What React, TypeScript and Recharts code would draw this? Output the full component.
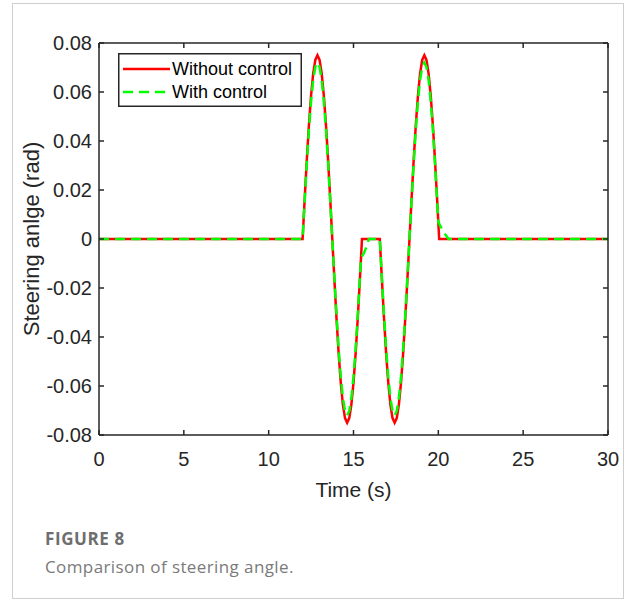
import React from "react";
import { LineChart, Line, XAxis, YAxis } from "recharts";

// time (s) and steering angle (rad)
const withoutTime = [
  0, 12, 12.125, 12.25, 12.375, 12.5, 12.625, 12.75, 12.875, 13, 13.125, 13.25, 13.375, 13.5, 13.625,
  13.75, 13.875, 14, 14.125, 14.25, 14.375, 14.5, 14.625, 14.75, 14.875, 15, 15.125, 15.25, 15.375,
  15.5, 16.55, 16.675, 16.8, 16.925, 17.05, 17.175, 17.3, 17.425, 17.55, 17.675, 17.8, 17.925, 18.05,
  18.175, 18.3, 18.425, 18.55, 18.675, 18.8, 18.925, 19.05, 19.175, 19.3, 19.425, 19.55, 19.675, 19.8,
  19.925, 20.05, 30,
];
const withoutAngle = [
  0, 0, 0.0167, 0.0325, 0.0468, 0.0586, 0.0676, 0.0731, 0.075, 0.0731, 0.0676, 0.0586, 0.0468, 0.0325,
  0.0167, 0, -0.0167, -0.0325, -0.0468, -0.0586, -0.0676, -0.0731, -0.075, -0.0731, -0.0676, -0.0586,
  -0.0468, -0.0325, -0.0167, 0, 0, -0.0167, -0.0325, -0.0468, -0.0586, -0.0676, -0.0731, -0.075,
  -0.0731, -0.0676, -0.0586, -0.0468, -0.0325, -0.0167, 0, 0.0167, 0.0325, 0.0468, 0.0586, 0.0676,
  0.0731, 0.075, 0.0731, 0.0676, 0.0586, 0.0468, 0.0325, 0.0167, 0, 0,
];

const withTime = [
  0, 12, 12.125, 12.25, 12.375, 12.5, 12.625, 12.75, 12.875, 13, 13.125, 13.25, 13.375, 13.5, 13.625,
  13.75, 13.875, 14, 14.125, 14.25, 14.375, 14.5, 14.625, 14.75, 14.875, 15, 15.125, 15.25, 15.375,
  15.45, 15.6, 15.78, 15.9, 16.55, 16.675, 16.8, 16.925, 17.05, 17.175, 17.3, 17.425, 17.55, 17.675,
  17.8, 17.925, 18.05, 18.175, 18.3, 18.425, 18.55, 18.675, 18.8, 18.925, 19.05, 19.175, 19.3, 19.425,
  19.55, 19.675, 19.8, 19.925, 20, 20.2, 20.4, 20.6, 30,
];
const withAngle = [
  0, 0, 0.016, 0.0312, 0.0449, 0.0563, 0.0649, 0.0702, 0.072, 0.0702, 0.0649, 0.0563, 0.0449, 0.0312,
  0.016, 0, -0.016, -0.0312, -0.0449, -0.0563, -0.0649, -0.0702, -0.072, -0.0702, -0.0649, -0.0563,
  -0.0449, -0.0312, -0.016, -0.0075, -0.006, -0.003, 0, 0, -0.016, -0.0312, -0.0449, -0.0563, -0.0649,
  -0.0702, -0.072, -0.0702, -0.0649, -0.0563, -0.0449, -0.0312, -0.016, 0, 0.016, 0.0312, 0.0449,
  0.0563, 0.0649, 0.0702, 0.072, 0.0702, 0.0649, 0.0563, 0.0449, 0.0312, 0.016, 0.0069, 0.0043, 0.002,
  0, 0,
];

const xTicks = [0, 5, 10, 15, 20, 25, 30];
const yTicks = [-0.08, -0.06, -0.04, -0.02, 0, 0.02, 0.04, 0.06, 0.08];
const seriesNames = ["Without control", "With control"];
const seriesColors = ["#ff0000", "#00ff00"];

const withoutData = withoutTime.map((t, i) => ({ t, v: withoutAngle[i] }));
const withData = withTime.map((t, i) => ({ t, v: withAngle[i] }));

const FONT = "'Liberation Sans', Arial, sans-serif";
const CAPTION_FONT = "'Open Sans', 'Noto Sans', sans-serif";
const INK = "#262626";
const axisLine = { stroke: INK, strokeWidth: 1.5 };
const tickLine = { stroke: INK, strokeWidth: 1.5 };
const tickStyle = { fill: INK, fontSize: 20, fontFamily: FONT };
const blank = () => "";

function ChartLegend() {
  return (
    <svg
      width={184}
      height={54}
      style={{ position: "absolute", left: 118, top: 53 }}
    >
      <rect x={0.75} y={0.75} width={182.5} height={52.5} fill="#fff" stroke={INK} strokeWidth={1.5} />
      {seriesNames.map((name, i) => (
        <g key={name}>
          <line
            x1={5}
            x2={52}
            y1={16 + i * 23}
            y2={16 + i * 23}
            stroke={seriesColors[i]}
            strokeWidth={2.5}
            strokeDasharray={i === 1 ? "10 6" : undefined}
          />
          <text x={54} y={22.4 + i * 23} fontSize={18} fontFamily={FONT} fill="#000">
            {name}
          </text>
        </g>
      ))}
    </svg>
  );
}

export default function App() {
  return (
    <div style={{ position: "absolute", left: 0, top: 0, width: 625, height: 601, background: "#fff" }}>
      <div
        style={{
          position: "absolute",
          left: 12,
          top: 3,
          width: 610,
          height: 594,
          border: "1px solid #cfcfcf",
        }}
      />
      <div style={{ position: "absolute", left: 0, top: 0 }}>
        <LineChart width={625} height={601} margin={{ top: 42, right: 16, bottom: 104, left: 29 }}>
          <XAxis
            xAxisId="bottom"
            type="number"
            dataKey="t"
            domain={[0, 30]}
            ticks={xTicks}
            interval={0}
            allowDataOverflow
            axisLine={axisLine}
            tickLine={tickLine}
            tickSize={-5}
            tickMargin={22}
            tick={tickStyle}
            height={62}
            label={{ value: "Time (s)", position: "insideBottom", offset: 0, fill: INK, fontSize: 21, fontFamily: FONT }}
          />
          <XAxis
            xAxisId="top"
            orientation="top"
            type="number"
            dataKey="t"
            domain={[0, 30]}
            ticks={xTicks}
            interval={0}
            allowDataOverflow
            axisLine={axisLine}
            tickLine={tickLine}
            tickSize={-5}
            tickFormatter={blank}
            height={1}
          />
          <YAxis
            yAxisId="left"
            type="number"
            domain={[-0.08, 0.08]}
            ticks={yTicks}
            interval={0}
            allowDataOverflow
            axisLine={axisLine}
            tickLine={tickLine}
            tickSize={-5}
            tickMargin={12}
            tick={tickStyle}
            tickFormatter={(v: number) => (v === 0 ? "0" : v.toFixed(2))}
            width={70}
            label={{
              value: "Steering anlge (rad)",
              angle: -90,
              position: "insideLeft",
              offset: 2,
              fill: INK,
              fontSize: 22,
              fontFamily: FONT,
              style: { textAnchor: "middle" },
            }}
          />
          <YAxis
            yAxisId="right"
            orientation="right"
            type="number"
            domain={[-0.08, 0.08]}
            ticks={yTicks}
            interval={0}
            allowDataOverflow
            axisLine={axisLine}
            tickLine={tickLine}
            tickSize={-5}
            tickFormatter={blank}
            width={1}
          />
          <Line
            xAxisId="bottom"
            yAxisId="left"
            data={withoutData}
            dataKey="v"
            type="linear"
            stroke={seriesColors[0]}
            strokeWidth={2.5}
            dot={false}
            isAnimationActive={false}
          />
          <Line
            xAxisId="bottom"
            yAxisId="left"
            data={withData}
            dataKey="v"
            type="linear"
            stroke={seriesColors[1]}
            strokeWidth={2.5}
            strokeDasharray="10 6"
            dot={false}
            isAnimationActive={false}
          />
        </LineChart>
        <ChartLegend />
      </div>
      <div
        style={{
          position: "absolute",
          left: 45,
          top: 530,
          fontFamily: CAPTION_FONT,
          fontWeight: 700,
          fontSize: 17,
          lineHeight: "17px",
          letterSpacing: 0.6,
          color: "#6e6e6e",
        }}
      >
        FIGURE 8
      </div>
      <div
        style={{
          position: "absolute",
          left: 45,
          top: 558,
          fontFamily: CAPTION_FONT,
          fontSize: 17,
          lineHeight: "17px",
          letterSpacing: 0.4,
          color: "#7a7a7a",
        }}
      >
        Comparison of steering angle.
      </div>
    </div>
  );
}
